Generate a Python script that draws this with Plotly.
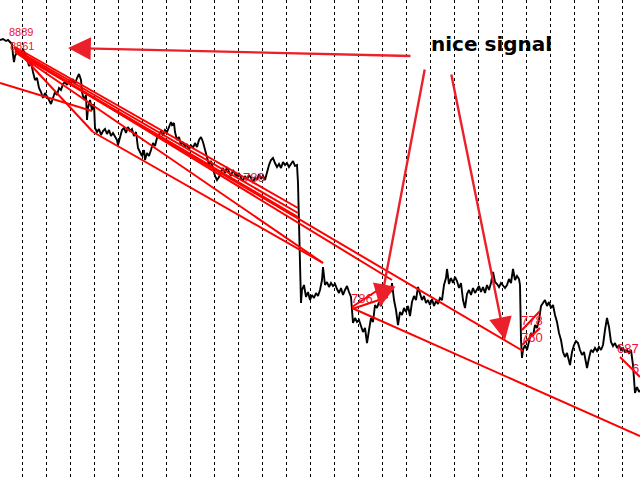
import plotly.graph_objects as go

# ---- price series (bar position, price level in chart units; top = high) ----
bar_x = [0,3,6,8,10,12,13,14,15,17,20,23,25,27,29,31,33,35,37,39,41,43,45,47,49,51,53,55,57,59,61,63,65,67,69,71,73,75,77,79,81,82,84,86,87,88,90,92,94,95,97,99,101,103,105,107,109,111,113,115,117,118,120,122,124,126,128,130,132,134,136,138,140,142,144,145,147,149,151,153,155,157,159,161,163,165,167,169,171,172,174,175,177,179,181,183,185,187,189,191,193,195,197,199,201,203,205,207,209,211,213,215,217,219,221,223,225,227,229,231,233,235,237,239,241,243,245,247,249,251,253,255,257,259,261,263,265,267,269,271,273,275,277,279,281,283,285,287,289,291,293,295,297,298,299,300,301,302,304,306,308,310,312,314,316,318,320,322,323,325,327,329,331,333,335,337,339,341,343,345,347,349,351,352,353,355,357,359,361,363,365,367,369,371,373,375,377,379,381,383,385,387,389,391,392,394,396,398,400,402,404,406,408,410,412,414,416,418,420,422,424,426,428,430,432,434,436,438,440,442,444,446,447,449,451,453,455,457,459,461,463,465,467,469,471,473,475,477,479,481,483,485,487,489,491,493,495,497,499,501,503,505,507,509,511,513,515,517,519,520,521,522,523,525,527,529,531,533,535,537,539,541,543,545,547,549,551,553,555,557,559,561,563,565,567,569,570,572,574,576,578,580,582,584,586,587,589,591,593,595,597,599,601,603,605,607,609,611,613,615,617,619,621,623,625,627,629,631,633,634,635,637,639,640]
price = [40,39,41,40,42,44,55,62,56,52,55,50,53,58,66,62,72,80,78,88,92,98,93,96,100,104,98,92,95,88,90,84,82,85,80,83,79,84,78,74,80,92,100,95,120,108,100,110,104,128,132,129,135,131,129,134,130,136,133,137,140,145,136,130,128,133,127,131,129,136,132,148,152,156,150,160,153,156,150,143,146,138,135,131,136,130,132,126,122,125,123,132,140,137,145,142,147,144,150,145,148,143,147,140,137,142,150,158,165,161,170,176,180,177,172,168,173,167,172,176,170,174,176,173,178,181,176,180,175,178,183,177,180,174,179,176,180,172,165,160,158,163,167,164,168,162,165,163,167,164,161,166,165,183,230,260,303,290,285,297,292,300,295,298,293,296,290,280,267,285,282,287,283,286,284,289,293,288,295,290,286,292,297,310,323,318,322,320,325,332,328,343,330,318,322,305,308,302,306,298,290,295,288,292,283,300,310,325,312,315,308,312,306,316,302,296,300,287,295,300,296,303,300,305,299,306,301,304,298,300,285,278,269,284,278,283,277,281,288,283,300,308,294,290,295,288,293,290,286,292,287,293,285,290,283,272,282,284,287,283,286,288,285,279,283,269,280,276,279,285,340,358,350,345,350,340,333,336,325,328,320,306,303,300,306,302,308,305,315,322,333,340,352,357,353,360,365,352,345,341,343,350,355,352,362,368,358,350,352,348,351,347,350,345,330,318,327,342,346,343,348,345,350,348,352,350,353,350,365,385,393,387,392,390]

# ---- red trend lines (start bar, start level, end bar, end level) ----
line_x0 = [0, 14, 15, 15, 15, 15, 15, 15, 93, 352, 352, 352, 522, 522, 620]
line_y0 = [83, 47, 47, 49, 51, 50, 52, 52, 132, 308, 307, 309, 345, 330, 357]
line_x1 = [92, 93, 298, 298, 298, 392, 523, 323, 323, 640, 378, 388, 540, 540, 640]
line_y1 = [111, 132, 208, 213, 217, 280, 351, 263, 263, 436, 290, 297, 328, 311, 377]

# ---- small red labels ----
label_text = ["8889", "8861", "786", "786", "778", "760", "687", "6"]
label_x = [21, 22, 254, 362, 532, 532, 640, 640]
label_y = [32, 46, 177, 298, 320, 337, 348, 368]
label_size = [11, 11, 13, 13, 13, 13, 13, 13]
label_anchor = ["center", "center", "center", "center", "center", "center", "right", "right"]

# ---- "nice signal" arrows (tail -> tip) ----
arrow_tail_x = [412, 425, 451]
arrow_tail_y = [56, 68, 73]
arrow_tip_x = [68, 380, 505]
arrow_tip_y = [48, 307, 340]

fig = go.Figure()

fig.add_trace(go.Scatter(x=bar_x, y=price, mode="lines",
                         line=dict(color="black", width=1.9), hoverinfo="skip"))

lx, ly = [], []
for a, b, c, d in zip(line_x0, line_y0, line_x1, line_y1):
    lx += [a, c, None]
    ly += [b, d, None]
fig.add_trace(go.Scatter(x=lx, y=ly, mode="lines",
                         line=dict(color="#ff0000", width=2), hoverinfo="skip"))

annotations = []
for t, x, y, sz, anc in zip(label_text, label_x, label_y, label_size, label_anchor):
    annotations.append(dict(x=x, y=y, xref="x", yref="y", text=t, showarrow=False,
                            xanchor=anc, borderpad=0,
                            font=dict(family="Liberation Sans", size=sz, color="#f01030")))
for tx, ty, hx, hy in zip(arrow_tail_x, arrow_tail_y, arrow_tip_x, arrow_tip_y):
    annotations.append(dict(x=hx, y=hy, ax=tx, ay=ty, xref="x", yref="y",
                            axref="x", ayref="y", text="", showarrow=True,
                            arrowhead=2, arrowsize=1.9, arrowwidth=2.4,
                            arrowcolor="rgb(236,32,42)"))
annotations.append(dict(x=491, y=44, xref="x", yref="y", text="<b>nice signal</b>",
                        showarrow=False,
                        font=dict(family="DejaVu Sans", size=20, color="black")))

fig.update_layout(
    width=640, height=480,
    margin=dict(l=0, r=0, t=0, b=0),
    paper_bgcolor="white", plot_bgcolor="white",
    showlegend=False,
    annotations=annotations,
    xaxis=dict(range=[0, 640], showgrid=True, tick0=22, dtick=24,
               gridcolor="black", gridwidth=1, griddash="3px,3px",
               showticklabels=False, zeroline=False, showline=False, ticks=""),
    yaxis=dict(range=[480, 0], showgrid=False, showticklabels=False,
               zeroline=False, showline=False, ticks=""),
)

fig.write_html("out.html", config={"displayModeBar": False},
               post_script="document.body.style.margin='0';document.body.style.overflow='hidden';")
